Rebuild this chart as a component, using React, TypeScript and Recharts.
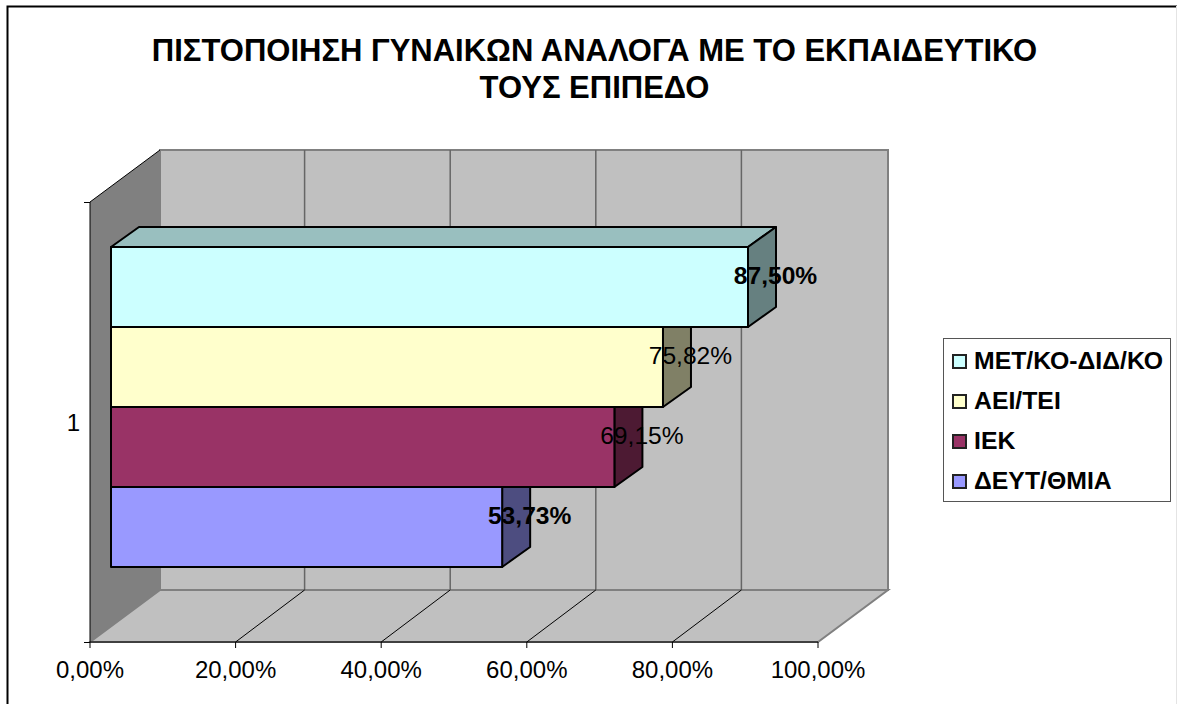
import React from "react";
import { Bar, BarChart, Customized, LabelList, Legend, XAxis, YAxis } from "recharts";

const TITLE_LINES = ["ΠΙΣΤΟΠΟΙΗΣΗ ΓΥΝΑΙΚΩΝ ΑΝΑΛΟΓΑ ΜΕ ΤΟ ΕΚΠΑΙΔΕΥΤΙΚΟ", "ΤΟΥΣ ΕΠΙΠΕΔΟ"];
const categories = ["1"];
const seriesNames = ["ΜΕΤ/ΚΟ-ΔΙΔ/ΚΟ", "ΑΕΙ/ΤΕΙ", "ΙΕΚ", "ΔΕΥΤ/ΘΜΙΑ"];
const seriesValues = [[0.875], [0.7582], [0.6915], [0.5373]];
const seriesColors = ["#CCFFFF", "#FFFFCC", "#993366", "#9999FF"];
const topColors = ["#99BFBF", "#BFBF99", "#73264D", "#7373BF"];
const sideColors = ["#668080", "#808066", "#4D1A33", "#4D4D80"];
const boldLabels = [true, false, false, true];
const xTicks = [0, 0.2, 0.4, 0.6, 0.8, 1];

const FONT = "'Liberation Sans', Arial, sans-serif";
const WIDTH = 1177;
const HEIGHT = 704;
const PLOT = { left: 90, top: 202, right: 818, bottom: 642 };
const WALL_DX = 70;
const WALL_DY = 52;
// bars sit a little way into the depth of the box
const BAR_DX = 21;
const BAR_DY = 15;
const BAR_DEPTH_X = 28;
const BAR_DEPTH_Y = 20;

const data = categories.map((name, i) => {
  const row: Record<string, string | number> = { name };
  seriesNames.forEach((s, j) => {
    row[s] = seriesValues[j][i];
  });
  return row;
});

const formatPercent = (v: number) => (v * 100).toFixed(2).replace(".", ",") + "%";

function Walls() {
  const { left, top, right, bottom } = PLOT;
  const backTop = top - WALL_DY;
  const backBottom = bottom - WALL_DY;
  const tickX = (v: number) => left + v * (right - left);
  return (
    <g>
      <path d={`M7.5 ${HEIGHT}V6.5H${WIDTH}`} fill="none" stroke="#000" strokeWidth={2} />
      <line x1={WIDTH - 0.5} y1={6} x2={WIDTH - 0.5} y2={HEIGHT} stroke="#e4e4e4" />
      {TITLE_LINES.map((t, i) => (
        <text key={t} x={594.5} y={61 + i * 37} textAnchor="middle" fontFamily={FONT} fontWeight="bold" fontSize={31} fill="#000">
          {t}
        </text>
      ))}
      <polygon
        points={`${left},${top} ${left + WALL_DX},${backTop} ${left + WALL_DX},${backBottom} ${left},${bottom}`}
        fill="#808080"
      />
      <polygon
        points={`${left},${bottom} ${left + WALL_DX},${backBottom} ${right + WALL_DX},${backBottom} ${right},${bottom}`}
        fill="#C0C0C0"
        stroke="#808080"
        strokeWidth={2}
      />
      <rect
        x={left + WALL_DX}
        y={backTop}
        width={right - left}
        height={bottom - top}
        fill="#C0C0C0"
        stroke="#808080"
        strokeWidth={2}
      />
      {xTicks.slice(1, -1).map((v) => (
        <g key={v}>
          <line x1={tickX(v) + WALL_DX - 1} y1={backTop} x2={tickX(v) + WALL_DX - 1} y2={backBottom} stroke="#666" strokeWidth={1.5} />
          <line x1={tickX(v)} y1={bottom} x2={tickX(v) + WALL_DX - 1} y2={backBottom} stroke="#000" />
        </g>
      ))}
      <line x1={left} y1={top} x2={left + WALL_DX} y2={backTop} stroke="#000" />
      <line x1={left - 6} y1={top + 0.5} x2={left} y2={top + 0.5} stroke="#000" />
      <line x1={left - 6} y1={bottom + 0.5} x2={left} y2={bottom + 0.5} stroke="#000" />
    </g>
  );
}

// the lower bars are drawn after the upper ones, so only the part of their
// side face below the upper bar is drawn, and only the first bar shows a top
function Bar3D(props: any) {
  const { x, y, width, height, seriesIndex } = props;
  const fx = x + BAR_DX;
  const fy = y - BAR_DY;
  const dx = BAR_DEPTH_X;
  const dy = BAR_DEPTH_Y;
  const isTop = seriesIndex === 0;
  const side = isTop
    ? `${fx + width},${fy} ${fx + width + dx},${fy - dy} ${fx + width + dx},${fy + height - dy} ${fx + width},${fy + height}`
    : `${fx + width},${fy} ${fx + width + dx},${fy} ${fx + width + dx},${fy + height - dy} ${fx + width},${fy + height}`;
  return (
    <g stroke="#000" strokeWidth={2} strokeLinejoin="round">
      {isTop && (
        <polygon
          points={`${fx},${fy} ${fx + dx},${fy - dy} ${fx + width + dx},${fy - dy} ${fx + width},${fy}`}
          fill={topColors[seriesIndex]}
        />
      )}
      <polygon points={side} fill={sideColors[seriesIndex]} />
      <rect x={fx} y={fy} width={width} height={height} fill={seriesColors[seriesIndex]} />
    </g>
  );
}

function BarLabel(props: any) {
  const { x, y, width, value, seriesIndex } = props;
  return (
    <text
      x={x + BAR_DX + width + BAR_DEPTH_X - 0.5}
      y={y - BAR_DY + 36.5}
      textAnchor="middle"
      fontFamily={FONT}
      fontSize={24.6}
      fontWeight={boldLabels[seriesIndex] ? "bold" : "normal"}
      fill="#000"
    >
      {formatPercent(value)}
    </text>
  );
}

function LegendBox() {
  return (
    <div
      style={{
        boxSizing: "border-box",
        width: 228,
        height: 164,
        border: "1.5px solid #555",
        background: "#fff",
        paddingTop: 2,
        fontFamily: FONT,
        fontWeight: "bold",
        fontSize: 24.8,
        color: "#000",
      }}
    >
      {seriesNames.map((name, i) => (
        <div key={name} style={{ display: "flex", alignItems: "center", height: 40, paddingLeft: 8 }}>
          <span
            style={{
              boxSizing: "border-box",
              width: 15,
              height: 15,
              border: "2px solid #222",
              background: seriesColors[i],
              marginRight: 7,
            }}
          />
          <span style={{ whiteSpace: "nowrap" }}>{name}</span>
        </div>
      ))}
    </div>
  );
}

export default function App() {
  return (
    <div style={{ position: "absolute", left: 0, top: 0, width: WIDTH, height: HEIGHT, background: "#fff" }}>
      <BarChart
        width={WIDTH}
        height={HEIGHT}
        data={data}
        layout="vertical"
        margin={{ top: PLOT.top, right: WIDTH - PLOT.right, bottom: HEIGHT - PLOT.bottom - 50, left: PLOT.left - 30 }}
        barGap={0}
        barCategoryGap={60}
      >
        <Customized component={Walls} />
        <XAxis
          type="number"
          domain={[0, 1]}
          ticks={xTicks}
          height={50}
          interval={0}
          tickFormatter={formatPercent}
          tick={{ fontFamily: FONT, fontSize: 24, fill: "#000" }}
          tickSize={6}
          tickMargin={13}
          stroke="#000"
        />
        <YAxis
          type="category"
          dataKey="name"
          width={30}
          tickLine={false}
          tickMargin={4}
          tick={{ fontFamily: FONT, fontSize: 24, fill: "#000" }}
          stroke="#000"
        />
        <Legend
          content={LegendBox}
          layout="vertical"
          align="center"
          verticalAlign="middle"
          wrapperStyle={{ left: 943, top: 338, width: 228, height: 164, right: "auto", bottom: "auto" }}
        />
        {seriesNames.map((name, i) => (
          <Bar
            key={name}
            dataKey={name}
            isAnimationActive={false}
            shape={(p: any) => <Bar3D {...p} seriesIndex={i} />}
          >
            <LabelList content={(p: any) => <BarLabel {...p} seriesIndex={i} />} />
          </Bar>
        ))}
      </BarChart>
    </div>
  );
}
